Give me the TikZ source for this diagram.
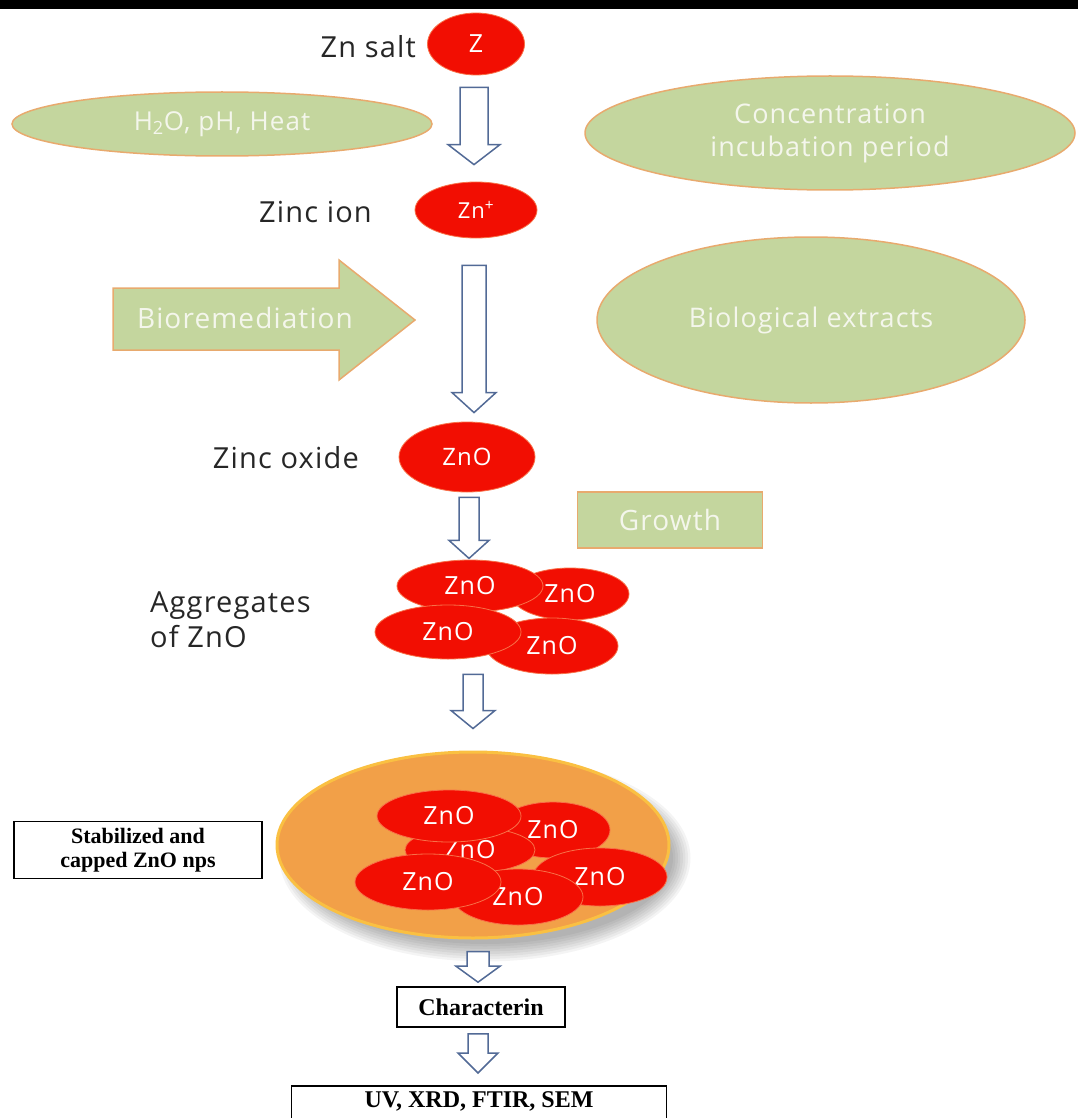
\documentclass[tikz,border=0pt]{standalone}
\usepackage{fontspec}
\setmainfont{Liberation Serif}
\setsansfont{Open Sans}[LetterSpace=4.0]
\usetikzlibrary{calc,positioning,shapes.geometric}

\definecolor{znred}{RGB}{242,14,2}
\definecolor{znedge}{RGB}{248,112,72}
\definecolor{leaf}{RGB}{196,214,158}
\definecolor{leafedge}{RGB}{232,170,110}
\definecolor{leaftext}{RGB}{244,246,236}
\definecolor{steel}{RGB}{82,106,150}
\definecolor{capbody}{RGB}{242,160,72}
\definecolor{caprim}{RGB}{250,192,66}

% hollow down arrow: top point, tip point, half shaft, half head, head length
\newcommand{\hollowarrow}[5]{%
 \draw[hollow] let \p1=(#1), \p2=(#2) in
   (\x1-#3,\y1) -- (\x1+#3,\y1) -- (\x1+#3,\y2+#5) -- (\x1+#4,\y2+#5) -- (\x1,\y2)
   -- (\x1-#4,\y2+#5) -- (\x1-#3,\y2+#5) -- cycle;}

\begin{document}
\begin{tikzpicture}[x=1pt,y=-1pt,
 zn/.style={ellipse, fill=znred, draw=znedge, line width=0.8pt, inner sep=0pt, text=white, font=\sffamily\fontsize{25}{28}\selectfont},
 greenball/.style={ellipse, fill=leaf, draw=leafedge, line width=1.5pt, inner sep=0pt, text=leaftext, align=center, font=\sffamily\fontsize{27}{33}\selectfont},
 lbl/.style={inner sep=0pt, text=black!85, font=\sffamily\fontsize{29}{35}\selectfont},
 serifbox/.style={draw, line width=1.6pt, inner sep=0pt, align=center, font=\bfseries\fontsize{24}{26}\selectfont},
 hollow/.style={draw=steel, line width=1.5pt, fill=white, line join=miter}]

\useasboundingbox (0,0) rectangle (1078,1118);
\clip (0,0) rectangle (1078,1118);
\fill[black] (0,0) rectangle (1078,9);

% zinc salt and zinc ion
\node[zn, minimum width=97pt, minimum height=62pt] (zs) at (476,44) {Z};
\node[lbl, anchor=east] (zsl) at (416,47) {Zn salt};
\node[zn, minimum width=122pt, minimum height=56pt, font=\sffamily\fontsize{22}{26}\selectfont] (zi) at (476,210) {Zn\textsuperscript{+}};
\node[lbl, anchor=east] (zil) at (372,212) {Zinc ion};

\node[greenball, minimum width=420pt, minimum height=64pt, font=\sffamily\fontsize{26}{30}\selectfont] (hph) at (222,124) {H\textsubscript{2}O, pH, Heat};
\node[greenball, minimum width=490pt, minimum height=114pt] (conc) at (830,133) {Concentration\\incubation period};

\hollowarrow{$(zs.south)+(-2,12)$}{$(zi.north)+(0,-17)$}{14pt}{26pt}{20pt}

% bioremediation step
\draw[fill=leaf, draw=leafedge, line width=1.5pt] (113,288) -- (339,288) -- (339,260) -- (415,320) -- (339,380) -- (339,350) -- (113,350) -- cycle;
\node[inner sep=0pt, text=leaftext, font=\sffamily\fontsize{28}{33}\selectfont] (bior) at (245,318) {Bioremediation};
\node[greenball, minimum width=428pt, minimum height=166pt] (bio) at (811,320) {Biological extracts};

\node[zn, minimum width=136pt, minimum height=70pt, font=\sffamily\fontsize{24}{28}\selectfont] (zo) at (467,457) {ZnO};
\node[lbl, anchor=east] (zol) at (359,458) {Zinc oxide};

\hollowarrow{$(zi.south)+(-2,27)$}{$(zo.north)+(0,-9)$}{12pt}{22pt}{20pt}

\node[draw=leafedge, fill=leaf, line width=1.5pt, minimum width=185pt, minimum height=56pt, text=leaftext, font=\sffamily\fontsize{28}{33}\selectfont] (grow) at (670,520) {Growth};

% aggregates
\node[zn, minimum width=118pt, minimum height=52pt] (a2) at (570,594) {ZnO};
\node[zn, minimum width=132pt, minimum height=56pt] (a4) at (552,646) {ZnO};
\node[zn, minimum width=146pt, minimum height=52pt] (a1) at (470,586) {ZnO};
\node[zn, minimum width=146pt, minimum height=54pt] (a3) at (448,632) {ZnO};
\node[lbl, anchor=west, align=left] (agl) at (150,620) {Aggregates\\of ZnO};

\hollowarrow{$(zo.south)+(2,5)$}{$(zo.south)+(2,66)$}{10pt}{20pt}{18pt}

% stabilized and capped, soft shadow first
\foreach \k in {0,...,7}
  \fill[black, opacity=0.045] (485,858) ellipse [x radius=188+\k*2.5, y radius=86+\k*2.5];
\node[ellipse, minimum width=392pt, minimum height=186pt, fill=capbody, draw=caprim, line width=3pt] (cap) at (473,845) {};
\node[zn, minimum width=114pt, minimum height=56pt] (c2) at (553,830) {ZnO};
\node[zn, minimum width=130pt, minimum height=46pt] (c3) at (470,850) {ZnO};
\node[zn, minimum width=144pt, minimum height=52pt] (c1) at (449,816) {ZnO};
\node[zn, minimum width=134pt, minimum height=58pt] (c4) at (600,877) {ZnO};
\node[zn, minimum width=130pt, minimum height=56pt] (c6) at (518,897) {ZnO};
\node[zn, minimum width=146pt, minimum height=56pt] (c5) at (428,882) {ZnO};

\hollowarrow{$(cap.north |- a4.south)$}{$(cap.north)+(0,-22)$}{10pt}{22pt}{18pt}

\node[serifbox, minimum width=248pt, minimum height=57pt, font=\bfseries\fontsize{22}{24}\selectfont] (stab) at (138,850) {Stabilized and\\capped ZnO nps};

% characterization
\node[serifbox, minimum width=168pt, minimum height=40pt] (chr) at (481,1007) {Characterin};
\node[serifbox, anchor=north, minimum width=375pt, inner ysep=5pt, text height=17pt, text depth=38pt] (uv) at (479,1085) {UV, XRD, FTIR, SEM};

\hollowarrow{$(chr.north |- cap.south)+(-3,12)$}{$(chr.north)+(-3,-4)$}{11pt}{22pt}{16pt}
\hollowarrow{$(chr.south)+(-3,6)$}{$(uv.north)+(-3,-12)$}{10pt}{20pt}{20pt}

\end{tikzpicture}
\end{document}
